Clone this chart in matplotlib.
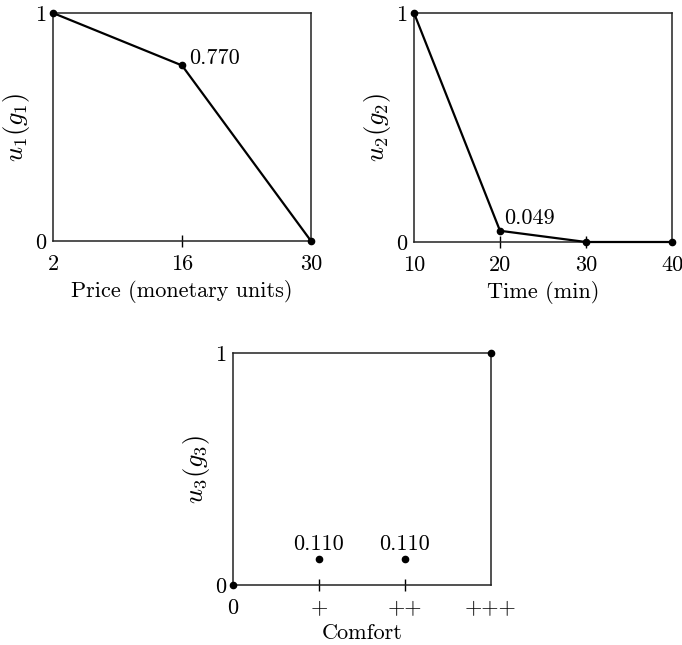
import matplotlib
matplotlib.use("Agg")
import matplotlib.pyplot as plt

plt.rcParams["font.family"] = "serif"
plt.rcParams["font.serif"] = ["cmr10", "DejaVu Serif"]
plt.rcParams["mathtext.fontset"] = "cm"
plt.rcParams["axes.unicode_minus"] = False

# Marginal utility functions
price = [2, 16, 30]
u_price = [1.0, 0.770, 0.0]
price_ticks = [2, 16, 30]

time_min = [10, 20, 30, 40]
u_time = [1.0, 0.049, 0.0, 0.0]
time_ticks = [10, 20, 30, 40]

comfort_levels = ["0", "+", "++", "+++"]
u_comfort = [0.0, 0.110, 0.110, 1.0]

FS = 16
W, H = 682, 645
fig = plt.figure(figsize=(W / 100, H / 100), dpi=100)


def make_axes(left, top, right, bottom):
    return fig.add_axes([left / W, 1 - bottom / H, (right - left) / W, (bottom - top) / H])


def style(ax, xticks, xlabels, ylabel):
    ax.set_ylim(0, 1)
    ax.set_xlim(xticks[0], xticks[-1])
    ax.set_xticks(xticks)
    ax.set_xticklabels(xlabels, fontsize=FS)
    ax.set_yticks([0, 1])
    ax.set_yticklabels(["0", "1"], fontsize=FS)
    ax.tick_params(axis="x", direction="inout", length=8, width=1.0, pad=6, color="black")
    ax.tick_params(axis="y", length=0, pad=5)
    # only the interior ticks show a mark; the end ones sit on the frame
    ticks = ax.xaxis.get_major_ticks()
    for t in (ticks[0], ticks[-1]):
        t.tick1line.set_visible(False)
    for s in ax.spines.values():
        s.set_linewidth(1.1)
        s.set_color("#222222")
    ax.set_ylabel(ylabel, fontsize=FS + 3, labelpad=2)


# Price
ax1 = make_axes(53, 13, 311, 241)
ax1.plot(price, u_price, color="black", lw=1.6, marker="o", ms=4.5, clip_on=False, zorder=3)
style(ax1, price_ticks, [str(t) for t in price_ticks], r"$u_1(g_1)$")
ax1.set_xlabel("Price (monetary units)", fontsize=FS, labelpad=4)
ax1.annotate(f"{u_price[1]:.3f}", (price[1], u_price[1]), xytext=(5, 1),
             textcoords="offset points", fontsize=FS, va="baseline", ha="left")

# Time
ax2 = make_axes(414, 13, 672, 242)
ax2.plot(time_min, u_time, color="black", lw=1.6, marker="o", ms=4.5, clip_on=False, zorder=3)
style(ax2, time_ticks, [str(t) for t in time_ticks], r"$u_2(g_2)$")
ax2.set_xlabel("Time (min)", fontsize=FS, labelpad=4)
ax2.annotate(f"{u_time[1]:.3f}", (time_min[1], u_time[1]), xytext=(3, 5),
             textcoords="offset points", fontsize=FS, va="baseline", ha="left")

# Comfort
ax3 = make_axes(233, 353, 491, 585)
xpos = list(range(len(comfort_levels)))
ax3.plot(xpos, u_comfort, linestyle="none", color="black", marker="o", ms=4.5,
         clip_on=False, zorder=3)
style(ax3, xpos, comfort_levels, r"$u_3(g_3)$")
ax3.set_xlabel("Comfort", fontsize=FS, labelpad=4)
for x, v in zip(xpos[1:3], u_comfort[1:3]):
    ax3.annotate(f"{v:.3f}", (x, v), xytext=(0, 7), textcoords="offset points",
                 fontsize=FS, va="baseline", ha="center")

fig.savefig("out.png", dpi=100, facecolor="white")
